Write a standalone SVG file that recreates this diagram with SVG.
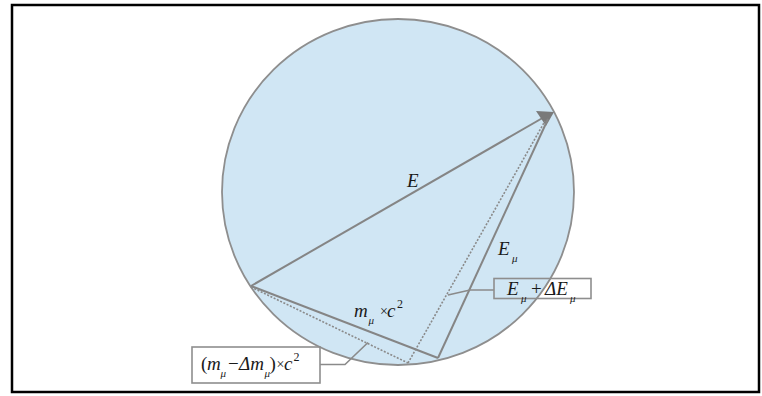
<svg xmlns="http://www.w3.org/2000/svg" width="762" height="396" viewBox="0 0 762 396">
<style>
.frame{fill:#fff;stroke:#000;stroke-width:2.5}
.ball{fill:#d0e6f4;stroke:#8e8e8e;stroke-width:1.8}
.solid{fill:none;stroke:#858585;stroke-width:2}
.dot{fill:none;stroke:#8a8a8a;stroke-width:1.6;stroke-dasharray:2 1.6}
.lead{fill:none;stroke:#8a8a8a;stroke-width:1.6}
.box{fill:none;stroke:#8e8e8e;stroke-width:1.6}
.t{font-family:"Liberation Serif","Times New Roman",serif;font-size:19px;fill:#1a1a1a}
.i{font-style:italic}
.s{font-size:11px;font-style:italic}
.x{font-size:14px}
.p{font-size:12px}
</style>
<rect class="frame" x="12" y="5" width="747" height="387"/>
<g id="sphere">
<ellipse class="ball" cx="398" cy="192" rx="176" ry="173"/>
</g>
<g id="connectors">
<line class="solid" x1="251" y1="286" x2="546" y2="116"/>
<polygon points="536,111 554,112 546,126" fill="#7a7a7a"/>
<line class="solid" x1="251" y1="286" x2="438" y2="358"/>
<line class="dot" x1="251" y1="287" x2="408" y2="363"/>
<line class="solid" x1="438" y1="358" x2="548" y2="119"/>
<line class="dot" x1="408" y1="363" x2="545" y2="121"/>
<polyline class="lead" points="494,290 470,290 448,295"/>
<polyline class="lead" points="320,364.5 345,364.5 368,342.5"/>
</g>
<g id="label-E">
<text class="t i" x="407" y="187">E</text>
</g>
<g id="label-Emu">
<text class="t" x="498" y="255"><tspan class="i">E</tspan><tspan class="s" x="512" y="262">μ</tspan></text>
</g>
<g id="label-mc2">
<text class="t" x="354" y="317"><tspan class="i">m</tspan><tspan class="s" x="368.5" y="324">μ</tspan><tspan class="x" x="380" y="316">×</tspan><tspan class="i" x="387" y="317">c</tspan><tspan class="p" x="397" y="308">2</tspan></text>
</g>
<g id="box-Emu-dE">
<rect class="box" x="494" y="278.5" width="97" height="20"/>
<text class="t" x="507" y="295"><tspan class="i">E</tspan><tspan class="s" x="521" y="302">μ</tspan><tspan x="531" y="295">+</tspan><tspan class="i" x="545" y="295">ΔE</tspan><tspan class="s" x="570" y="302">μ</tspan></text>
</g>
<g id="box-m-dm">
<rect class="box" x="192" y="347" width="128" height="36"/>
<text class="t" x="201" y="370">(<tspan class="i" x="207">m</tspan><tspan class="s" x="220.5" y="377">μ</tspan><tspan x="228" y="370">−</tspan><tspan class="i" x="239" y="370">Δm</tspan><tspan class="s" x="264.5" y="377">μ</tspan><tspan x="269.5" y="370">)</tspan><tspan class="x" x="276.5" y="369">×</tspan><tspan class="i" x="284" y="370">c</tspan><tspan class="p" x="293.5" y="361">2</tspan></text>
</g>
</svg>
